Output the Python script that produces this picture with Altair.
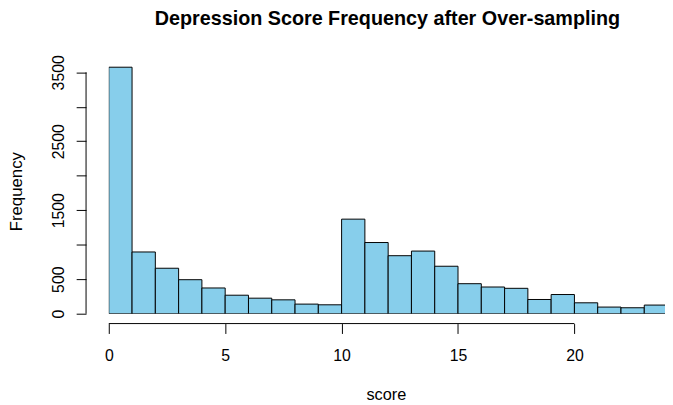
import altair as alt
import pandas as pd

bin_start = list(range(0, 24))
counts = [3574, 895, 659, 493, 373, 268, 225, 201, 139, 129,
          1371, 1032, 841, 908, 688, 435, 387, 368, 206, 278,
          158, 96, 86, 125]
x_ticks = [0, 5, 10, 15, 20]
y_ticks = [0, 500, 1000, 1500, 2000, 2500, 3000, 3500]

title_text = "Depression Score Frequency after Over-sampling"
x_title = "score"
y_title = "Frequency"

FONT = "Liberation Sans, Arial, Helvetica, sans-serif"

df = pd.DataFrame({"start": bin_start, "end": [b + 1 for b in bin_start],
                   "count": counts, "zero": [0] * len(bin_start)})

xscale = alt.Scale(domain=[0, 23.89], nice=False, zero=False)
yscale = alt.Scale(domain=[0, 3653], nice=False)

xaxis = alt.Axis(values=x_ticks, domain=False, grid=False, tickSize=10,
                 tickColor="black", labelColor="black", labelFontSize=16,
                 labelFont=FONT, labelPadding=14, offset=10, title=None,
                 labelFlush=False, labelOverlap=False)
yaxis = alt.Axis(values=y_ticks, domain=False, grid=False, tickSize=10,
                 tickColor="black", labelColor="black", labelFontSize=16,
                 labelFont=FONT, labelPadding=10, offset=23, title=None,
                 labelAngle=270, labelAlign="center", labelBaseline="bottom",
                 format="d", labelFlush=False, labelOverlap=False,
                 labelExpr="(datum.value == 1000 || datum.value == 2000 || datum.value == 3000) ? '' : datum.label")

bars = alt.Chart(df).mark_bar(
    fill="#87CEEB", stroke="black", strokeWidth=1, clip=True, opacity=1
).encode(
    x=alt.X("start:Q", scale=xscale, axis=xaxis),
    x2="end:Q",
    y=alt.Y("count:Q", scale=yscale, axis=yaxis),
    y2="zero:Q",
)

xline = alt.Chart(pd.DataFrame({"a": [x_ticks[0]], "b": [x_ticks[-1]]})).mark_rule(
    color="black", strokeWidth=1
).encode(x=alt.X("a:Q", scale=xscale, axis=xaxis), x2="b:Q", y=alt.value(265))

yline = alt.Chart(pd.DataFrame({"a": [y_ticks[0]], "b": [y_ticks[-1]]})).mark_rule(
    color="black", strokeWidth=1
).encode(y=alt.Y("a:Q", scale=yscale, axis=yaxis), y2="b:Q", x=alt.value(-23))

title = alt.Chart(pd.DataFrame({"t": [title_text]})).mark_text(
    font=FONT, fontSize=20, fontWeight="bold", color="black", align="center", baseline="alphabetic"
).encode(text="t:N", x=alt.value(282), y=alt.value(-37))

xt = alt.Chart(pd.DataFrame({"t": [x_title]})).mark_text(
    font=FONT, fontSize=16.5, color="black", align="center", baseline="middle"
).encode(text="t:N", x=alt.value(281), y=alt.value(337))

yt = alt.Chart(pd.DataFrame({"t": [y_title]})).mark_text(
    font=FONT, fontSize=17, color="black", align="center", baseline="middle", angle=270
).encode(text="t:N", x=alt.value(-92.5), y=alt.value(131.5))

chart = alt.layer(bars, xline, yline, title, xt, yt).properties(
    width=563, height=255,
    background="white",
    autosize=alt.AutoSizeParams(type="none"),
    padding={"left": 102, "top": 52, "right": 0, "bottom": 90},
).configure_view(stroke=None)

chart.save("out.html", embed_options={"renderer": "svg", "actions": False})
